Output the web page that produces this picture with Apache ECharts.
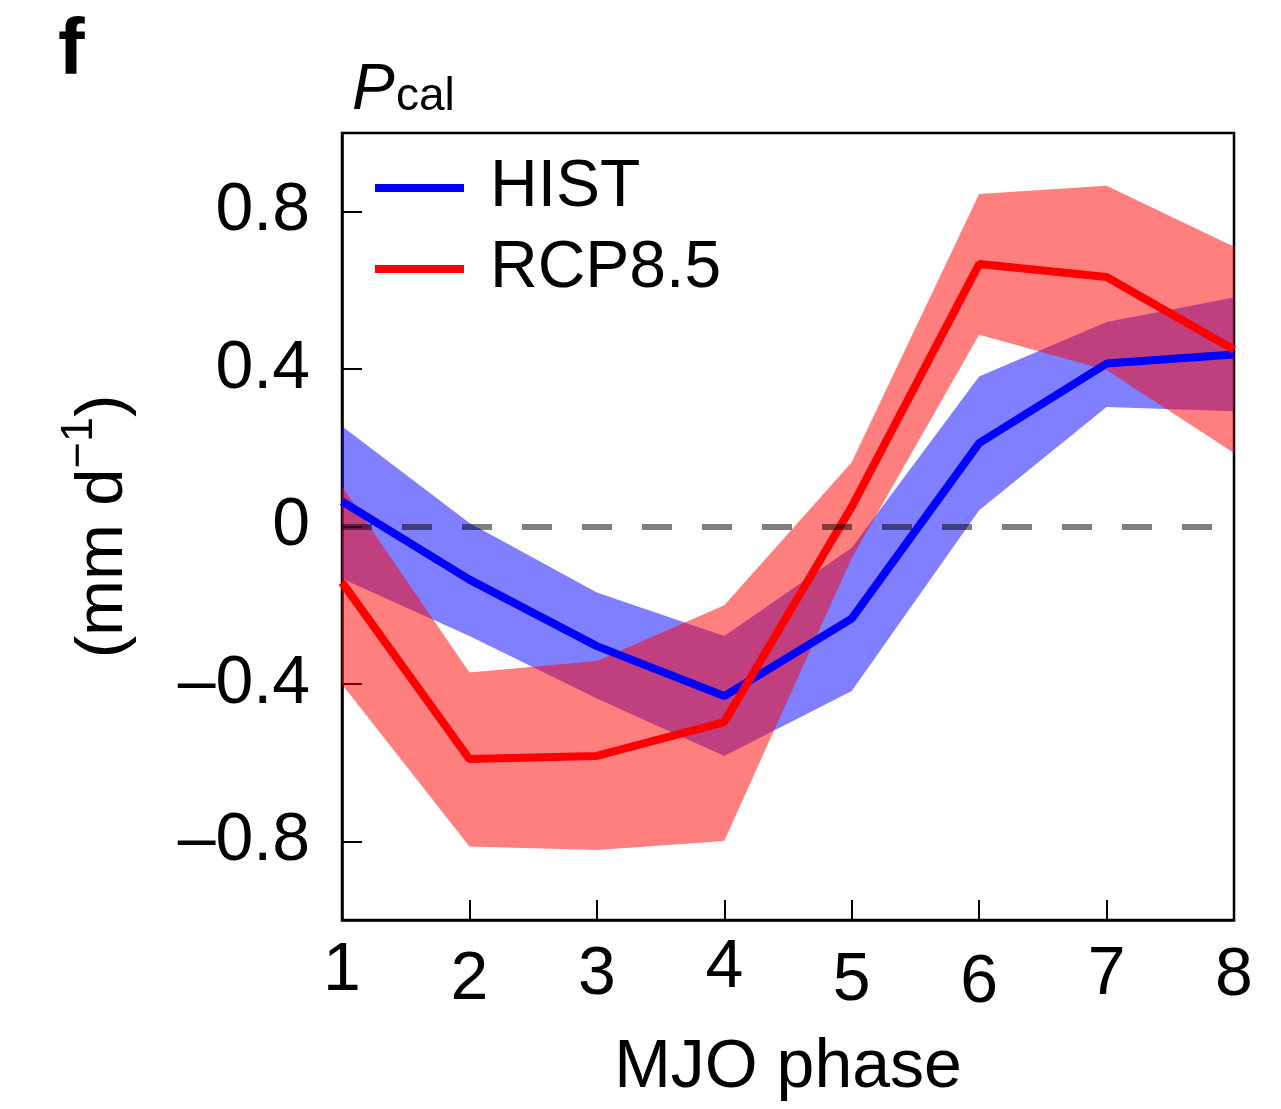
<!DOCTYPE html>
<html><head><meta charset="utf-8">
<script src="https://cdn.jsdelivr.net/npm/echarts@6/dist/echarts.min.js"></script>
<style>html,body{margin:0;padding:0;background:#fff}#c{width:1281px;height:1109px}</style>
</head><body><div id="c"></div>
<script>
// ---- data ----
const phases = ['1','2','3','4','5','6','7','8'];
const histMean  = [0.064, -0.135, -0.304, -0.431, -0.234, 0.212, 0.414, 0.437];
const histUpper = [0.255,  0.009, -0.168, -0.278, -0.054, 0.381, 0.520, 0.582];
const histLower = [-0.133, -0.278, -0.437, -0.583, -0.418, 0.041, 0.304, 0.293];
const rcpMean   = [-0.142, -0.591, -0.583, -0.497, 0.050, 0.667, 0.634, 0.449];
const rcpUpper  = [0.102, -0.371, -0.342, -0.200, 0.163, 0.845, 0.866, 0.711];
const rcpLower  = [-0.401, -0.813, -0.822, -0.799, -0.080, 0.487, 0.398, 0.187];
const yTicks = [-0.8, -0.4, 0, 0.4, 0.8];
const yTickLabels = ['–0.8', '–0.4', '0', '0.4', '0.8'];
const seriesNames = ['HIST', 'RCP8.5'];

// ---- styling ----
const FF = '"Liberation Sans", Arial, Helvetica, sans-serif';
const xLabelShift = [3.5, 12, 7, 0, 13.5, 15, 7, 8.5];
const rich = {};
xLabelShift.forEach((s, i) => { rich['l' + i] = {fontSize: 68, fontFamily: FF, color: '#000', padding: [s, 0, 0, 0]}; });

function band(key, lower, upper, color) {
  return [
    {name: key + '_lo', type: 'line', stack: key, stackStrategy: 'all', data: lower.slice(),
     symbol: 'none', lineStyle: {width: 0, opacity: 0}, silent: true, z: 1, animation: false},
    {name: key + '_band', type: 'line', stack: key, stackStrategy: 'all',
     data: upper.map((u, i) => u - lower[i]),
     symbol: 'none', lineStyle: {width: 0, opacity: 0}, areaStyle: {color: color, opacity: 1},
     silent: true, z: 1, animation: false}
  ];
}

const chart = echarts.init(document.getElementById('c'), null, {renderer: 'canvas'});
chart.setOption({
  animation: false,
  backgroundColor: '#fff',
  grid: {left: 342, right: 47, top: 133, bottom: 189, show: true, borderColor: '#000', borderWidth: 2.5,
         containLabel: false, outerBoundsMode: 'none'},
  legend: {
    data: seriesNames, orient: 'vertical', left: 375, top: 155, padding: 0, icon: 'rect',
    itemWidth: 89, itemHeight: 8, itemGap: 15, selectedMode: false,
    textStyle: {fontSize: 66, fontFamily: FF, color: '#000', lineHeight: 66, padding: [0, 0, 0, 21]}
  },
  xAxis: {
    type: 'category', data: phases, boundaryGap: false,
    name: 'MJO phase', nameLocation: 'middle', nameGap: 114, nameMoveOverlap: false,
    nameTextStyle: {fontSize: 68, fontFamily: FF, color: '#000'},
    axisLine: {onZero: false, lineStyle: {color: '#000', width: 2.5}},
    axisTick: {inside: true, length: 20, lineStyle: {color: '#000', width: 2}},
    axisLabel: {margin: 14, formatter: (v, i) => '{l' + i + '|' + v + '}', rich: rich},
    splitLine: {show: false}
  },
  yAxis: {
    type: 'value', min: -1, max: 1, interval: 0.2,
    name: '{m|(mm d}{s|−1}{m|)}', nameLocation: 'middle', nameGap: 205, nameMoveOverlap: false,
    nameTextStyle: {
      fontSize: 67, fontFamily: FF, color: '#000',
      rich: {
        m: {fontSize: 67, fontFamily: FF, color: '#000', lineHeight: 67, verticalAlign: 'bottom'},
        s: {fontSize: 45, fontFamily: FF, color: '#000', lineHeight: 45, verticalAlign: 'bottom', padding: [0, 0, 35, 0]}
      }
    },
    axisLine: {show: true, onZero: false, lineStyle: {color: '#000', width: 2.5}},
    axisTick: {show: true, inside: true, length: 20, customValues: yTicks, lineStyle: {color: '#000', width: 2}},
    axisLabel: {margin: 32, fontSize: 68, fontFamily: FF, color: '#000', customValues: yTicks,
                formatter: v => yTickLabels[yTicks.findIndex(t => Math.abs(t - v) < 1e-9)] ?? ''},
    splitLine: {show: false}
  },
  series: [
    ...band('hist', histLower, histUpper, 'rgba(0,0,255,0.5)'),
    ...band('rcp', rcpLower, rcpUpper, 'rgba(255,0,0,0.5)'),
    {name: 'HIST', type: 'line', data: histMean, symbol: 'none', z: 3,
     lineStyle: {color: '#0000ff', width: 8}, itemStyle: {color: '#0000ff'}},
    {name: 'RCP8.5', type: 'line', data: rcpMean, symbol: 'none', z: 4,
     lineStyle: {color: '#ff0000', width: 8}, itemStyle: {color: '#ff0000'},
     markLine: {silent: true, symbol: 'none', label: {show: false}, animation: false,
       lineStyle: {type: [30, 30], color: 'rgba(0,0,0,0.5)', width: 6}, data: [{yAxis: 0}]}}
  ],
  graphic: [
    {type: 'text', left: 58, top: 12, style: {text: 'f', font: 'bold 80px ' + FF, fill: '#000'}},
    {type: 'text', left: 352, top: 59, style: {text: 'P', font: 'italic 64px ' + FF, fill: '#000'}},
    {type: 'text', left: 396, top: 74, style: {text: 'cal', font: '46px ' + FF, fill: '#000'}}
  ]
});
</script>
</body></html>
